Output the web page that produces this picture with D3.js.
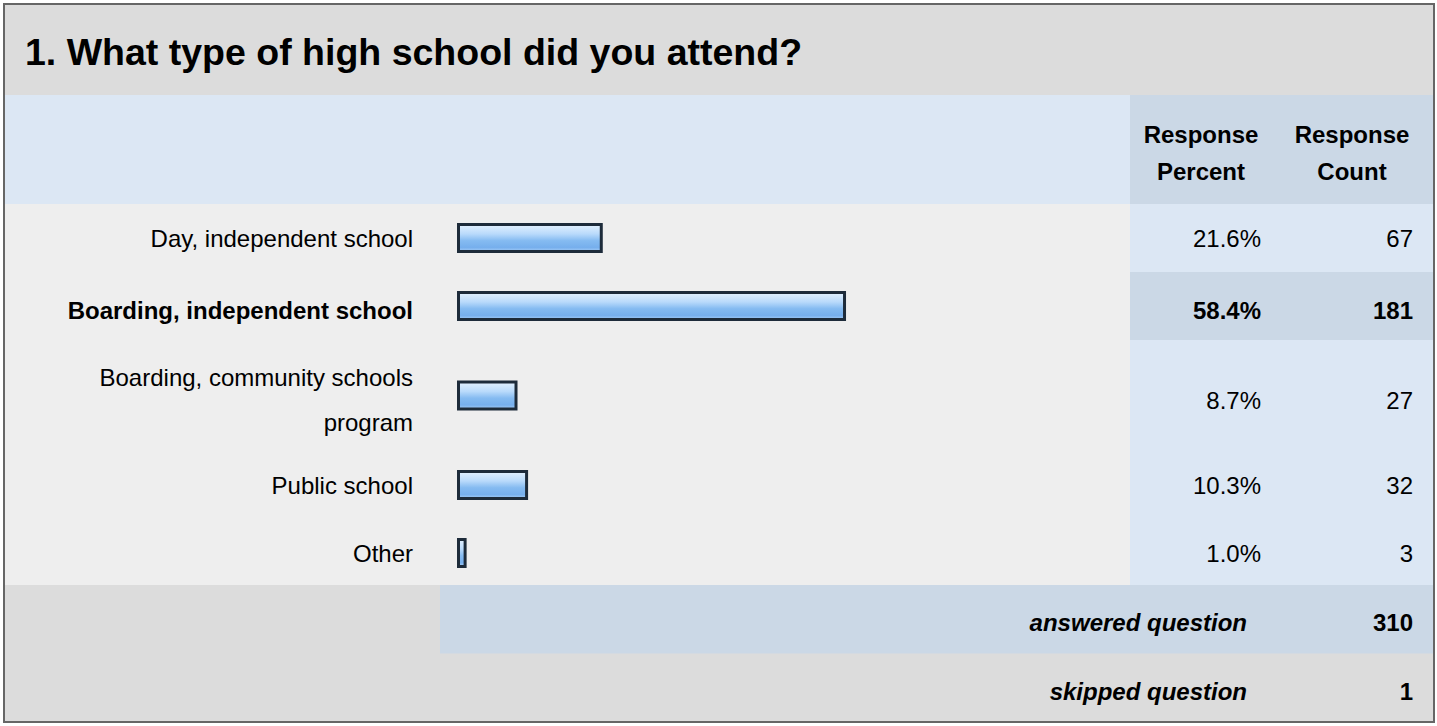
<!DOCTYPE html>
<html>
<head>
<meta charset="utf-8">
<script src="https://cdn.jsdelivr.net/npm/d3@7"></script>
<style>
  body { margin: 0; background: #fff; }
  svg text { font-family: 'Liberation Sans', Arial, sans-serif; fill: #000; }
</style>
</head>
<body>
<div class="chart"></div>
<script>
'use strict';

// Survey data
const question = '1. What type of high school did you attend?';
const labelLines = [
  ['Day, independent school'],
  ['Boarding, independent school'],
  ['Boarding, community schools', 'program'],
  ['Public school'],
  ['Other']
];
const percents = [21.6, 58.4, 8.7, 10.3, 1.0];
const counts = [67, 181, 27, 32, 3];
const headerPercent = ['Response', 'Percent'];
const headerCount = ['Response', 'Count'];
const answered = 310;
const skipped = 1;

// Initialize
const w = 1437;
const h = 726;
const left = 5;
const right = 1433;
const colPct = 1130;
const titleBg = '#dcdcdc';
const lightBlue = '#dce7f4';
const darkBlue = '#cbd8e6';
const rowGray = '#eeeeee';
const font = 24;

const svg = d3.select('.chart')
              .append('svg')
              .attr('width', w)
              .attr('height', h);

// bar gradient
const grad = svg.append('defs').append('linearGradient')
  .attr('id', 'barGrad')
  .attr('x1', 0).attr('y1', 0).attr('x2', 0).attr('y2', 1);
[['0%', '#e3f1fe'], ['35%', '#b9dafb'], ['60%', '#85bbf1'], ['85%', '#76afed'], ['100%', '#a6cdf6']]
  .forEach(s => grad.append('stop').attr('offset', s[0]).attr('stop-color', s[1]));

// Row layout: base height plus extra per additional label line
const top0 = 204;
const baseH = 68;
const extraH = 43;
const rows = [];
let yy = top0;
labelLines.forEach((lines, i) => {
  const rh = baseH + (lines.length - 1) * extraH;
  rows.push({ i, y: yy, h: rh, c: yy + rh / 2 });
  yy += rh;
});
const summaryTop = 585;
const summaryH = (h - 4 - summaryTop) / 2;

const highlight = percents.indexOf(d3.max(percents));
const textOff = d => (d.i === highlight || labelLines[d.i].length > 1) ? 13 : 9;

// Scales
const xScale = d3.scaleLinear()
                 .domain([0, 100])
                 .range([458.5, 458.5 + 661]);

// Title band
svg.append('rect').attr('x', left).attr('y', 5).attr('width', right - left).attr('height', 90).attr('fill', titleBg);
svg.append('text')
  .attr('x', 25).attr('y', 65)
  .style('font-size', '37.5px').style('font-weight', 'bold')
  .text(question);

// Header
svg.append('rect').attr('x', left).attr('y', 95).attr('width', colPct - left).attr('height', top0 - 95).attr('fill', lightBlue);
svg.append('rect').attr('x', colPct).attr('y', 95).attr('width', right - colPct).attr('height', top0 - 95).attr('fill', darkBlue);

[[headerPercent, 1201], [headerCount, 1352]].forEach(([lines, cx]) => {
  lines.forEach((t, k) => {
    svg.append('text')
      .attr('x', cx).attr('y', 143 + k * 37)
      .attr('text-anchor', 'middle')
      .style('font-size', font + 'px').style('font-weight', 'bold')
      .text(t);
  });
});

// Rows
const row = svg.selectAll('.row')
  .data(rows)
  .enter()
  .append('g')
  .attr('class', 'row');

row.append('rect')
  .attr('x', left).attr('y', d => d.y)
  .attr('width', colPct - left).attr('height', d => d.h)
  .attr('fill', rowGray);

row.append('rect')
  .attr('x', colPct).attr('y', d => d.y)
  .attr('width', right - colPct).attr('height', d => d.h)
  .attr('fill', d => d.i === highlight ? darkBlue : lightBlue);

// labels
row.each(function (d) {
  const lines = labelLines[d.i];
  const g = d3.select(this);
  const gap = 45;
  lines.forEach((t, k) => {
    g.append('text')
      .attr('x', 413)
      .attr('y', d.c + textOff(d) + (k - (lines.length - 1) / 2) * gap)
      .attr('text-anchor', 'end')
      .style('font-size', font + 'px')
      .style('font-weight', d.i === highlight ? 'bold' : 'normal')
      .text(t);
  });
});

// bars
const barH = 27;
row.append('rect')
  .attr('x', xScale(0))
  .attr('y', d => d.c - barH / 2)
  .attr('width', d => xScale(percents[d.i]) - xScale(0))
  .attr('height', barH)
  .attr('fill', 'url(#barGrad)')
  .attr('stroke', '#1d2b3a')
  .attr('stroke-width', 3);

// values
row.append('text')
  .attr('x', 1261).attr('y', d => d.c + textOff(d))
  .attr('text-anchor', 'end')
  .style('font-size', font + 'px')
  .style('font-weight', d => d.i === highlight ? 'bold' : 'normal')
  .text(d => percents[d.i].toFixed(1) + '%');

row.append('text')
  .attr('x', 1413).attr('y', d => d.c + textOff(d))
  .attr('text-anchor', 'end')
  .style('font-size', font + 'px')
  .style('font-weight', d => d.i === highlight ? 'bold' : 'normal')
  .text(d => counts[d.i]);

// Summary rows
svg.append('rect').attr('x', left).attr('y', summaryTop).attr('width', right - left).attr('height', h - 4 - summaryTop).attr('fill', titleBg);
svg.append('rect').attr('x', 440).attr('y', summaryTop).attr('width', right - 440).attr('height', summaryH).attr('fill', darkBlue);

[['answered question', answered], ['skipped question', skipped]].forEach(([label, val], k) => {
  const cy = summaryTop + summaryH * (k + 0.5);
  svg.append('text')
    .attr('x', 1247).attr('y', cy + 12)
    .attr('text-anchor', 'end')
    .style('font-size', font + 'px').style('font-weight', 'bold').style('font-style', 'italic')
    .text(label);
  svg.append('text')
    .attr('x', 1413).attr('y', cy + 12)
    .attr('text-anchor', 'end')
    .style('font-size', font + 'px').style('font-weight', 'bold')
    .text(val);
});

// Outer frame
svg.append('rect')
  .attr('x', 4).attr('y', 4)
  .attr('width', right - 4 + 1).attr('height', h - 8)
  .attr('fill', 'none')
  .attr('stroke', '#666')
  .attr('stroke-width', 2);
</script>
</body>
</html>
